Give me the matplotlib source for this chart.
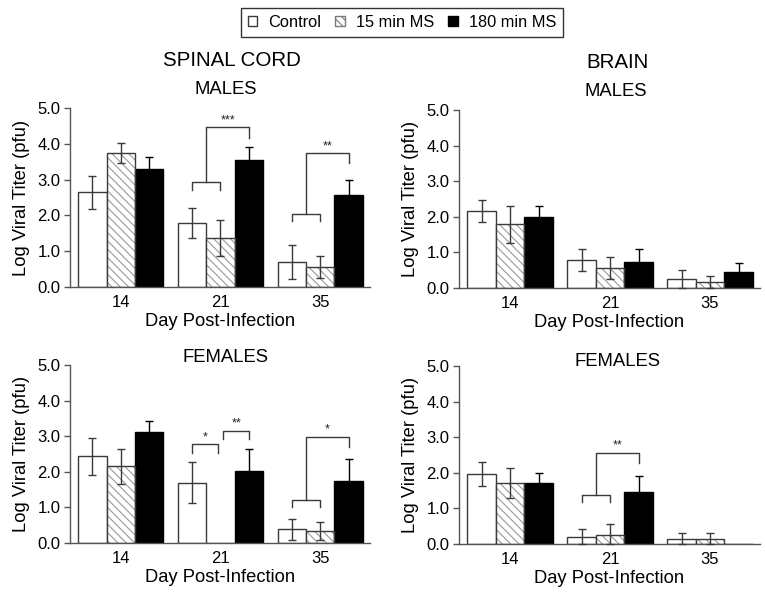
import numpy as np
import matplotlib
matplotlib.use("Agg")
import matplotlib.pyplot as plt
from matplotlib.patches import Patch

plt.rcParams['font.family'] = ['Liberation Sans', 'DejaVu Sans']
plt.rcParams['hatch.linewidth'] = 0.8

days = ["14", "21", "35"]
groups = ["Control", "15 min MS", "180 min MS"]

# means / SEM per panel: rows = groups (Control, 15 min, 180 min), cols = days
sc_m_mean = [[2.64, 1.79, 0.69], [3.74, 1.37, 0.56], [3.29, 3.54, 2.58]]
sc_m_sem = [[0.47, 0.42, 0.47], [0.28, 0.51, 0.30], [0.35, 0.37, 0.40]]
br_m_mean = [[2.16, 0.79, 0.25], [1.79, 0.56, 0.18], [2.00, 0.74, 0.46]]
br_m_sem = [[0.31, 0.30, 0.26], [0.52, 0.31, 0.17], [0.29, 0.35, 0.24]]
sc_f_mean = [[2.43, 1.69, 0.38], [2.15, 0.00, 0.33], [3.11, 2.02, 1.74]]
sc_f_sem = [[0.51, 0.58, 0.30], [0.50, 0.00, 0.25], [0.33, 0.61, 0.63]]
br_f_mean = [[1.96, 0.21, 0.14], [1.72, 0.26, 0.14], [1.72, 1.46, 0.00]]
br_f_sem = [[0.33, 0.21, 0.16], [0.42, 0.30, 0.16], [0.27, 0.45, 0.00]]

# significance: (day index, label, low bracket y, high bracket y)
sc_m_sig = [(1, "***", 2.92, 4.46), (2, "**", 2.04, 3.74)]
br_m_sig = []
sc_f_sig = [(2, "*", 1.22, 2.98)]
sc_f_pairs = [(1, 0, 1, "*", 2.77), (1, 1, 2, "**", 3.15)]
br_f_sig = [(1, "**", 1.38, 2.57)]

W = 0.285
EC = "#3a3a3a"
HATCH = "\\\\\\\\"

fig = plt.figure(figsize=(7.65, 5.97), dpi=100)
ax_pos = {
    "tl": [70/765, 1-287/597, 300/765, 179/597],
    "tr": [459/765, 1-288/597, 301/765, 178/597],
    "bl": [70/765, 1-543/597, 300/765, 178/597],
    "br": [459/765, 1-544/597, 301/765, 178/597],
}


def draw_panel(ax, means, sems, sig, pairs=()):
    x = np.arange(len(days))
    means = np.array(means)
    sems = np.array(sems)
    for g in range(3):
        xs = x + (g - 1) * W
        m = means[g]
        if g == 0:
            ax.bar(xs, m, W, color="white", edgecolor=EC, linewidth=1.0, zorder=2)
        elif g == 1:
            ax.bar(xs, m, W, color="white", edgecolor="#999999", hatch=HATCH,
                   linewidth=0, zorder=2)
            ax.bar(xs, m, W, color="none", edgecolor=EC, linewidth=1.0, zorder=3)
        else:
            ax.bar(xs, m, W, color="black", edgecolor="black", linewidth=1.0, zorder=2)
        ok = m > 0
        lower = np.minimum(sems[g], m)
        ax.errorbar(xs[ok], m[ok], yerr=[lower[ok], sems[g][ok]], fmt="none",
                    ecolor=EC if g < 2 else "black", elinewidth=1.0,
                    capsize=2.6, capthick=1.0, zorder=4, clip_on=False)
    lc = "#3a3a3a"
    for (d, lab, ylo, yhi) in sig:
        xc, x15, x180 = d - W, d, d + W
        ax.plot([xc, xc, x15, x15], [ylo - 0.21, ylo, ylo, ylo - 0.21],
                color=lc, lw=1.0, zorder=5)
        xm = (xc + x15) / 2
        ax.plot([xm, xm, x180, x180], [ylo, yhi, yhi, yhi - 0.29],
                color=lc, lw=1.0, zorder=5)
        ax.text((xm + x180) / 2, yhi + 0.03, lab, ha="center", va="bottom",
                fontsize=9, color="#222222")
    for (d, g1, g2, lab, y) in pairs:
        x1 = d + (g1 - 1) * W + (0.0 if g1 == 0 else 0.03)
        x2 = d + (g2 - 1) * W - (0.03 if g2 == 1 else 0.0)
        ax.plot([x1, x1, x2, x2], [y - 0.23, y, y, y - 0.23], color=lc, lw=1.0, zorder=5)
        ax.text((x1 + x2) / 2, y + 0.03, lab, ha="center", va="bottom",
                fontsize=9, color="#222222")
    ax.set_xlim(-0.51, 2.5)
    ax.set_ylim(0, 5.0)
    ax.set_yticks(np.arange(0, 5.01, 1.0))
    ax.set_yticklabels([f"{v:.1f}" for v in np.arange(0, 5.01, 1.0)])
    ax.set_xticks(x)
    ax.set_xticklabels(days)
    ax.tick_params(axis="x", length=0, pad=6, labelsize=12)
    ax.tick_params(axis="y", length=4, width=1, color="#555555", labelsize=12,
                   direction="out", pad=3)
    for s in ["top", "right"]:
        ax.spines[s].set_visible(False)
    for s in ["left", "bottom"]:
        ax.spines[s].set_color("#555555")
        ax.spines[s].set_linewidth(1.0)
    ax.set_ylabel("Log Viral Titer (pfu)", fontsize=13.2, labelpad=5)
    ax.set_xlabel("Day Post-Infection", fontsize=13.2, labelpad=2)


ax1 = fig.add_axes(ax_pos["tl"])
draw_panel(ax1, sc_m_mean, sc_m_sem, sc_m_sig)
ax2 = fig.add_axes(ax_pos["tr"])
draw_panel(ax2, br_m_mean, br_m_sem, br_m_sig)
ax3 = fig.add_axes(ax_pos["bl"])
draw_panel(ax3, sc_f_mean, sc_f_sem, sc_f_sig, sc_f_pairs)
ax4 = fig.add_axes(ax_pos["br"])
draw_panel(ax4, br_f_mean, br_f_sem, br_f_sig)

def fy(py):
    return 1 - py / 597

fig.text(232/765, fy(60), "SPINAL CORD", ha="center", va="center", fontsize=14.8)
fig.text(617/765, fy(62), "BRAIN", ha="center", va="center", fontsize=14.8)
fig.text(226/765, fy(90), "MALES", ha="center", va="center", fontsize=13.3)
fig.text(616/765, fy(92), "MALES", ha="center", va="center", fontsize=13.3)
fig.text(225/765, fy(358), "FEMALES", ha="center", va="center", fontsize=13.3)
fig.text(617/765, fy(361), "FEMALES", ha="center", va="center", fontsize=13.3)

handles = [
    Patch(facecolor="white", edgecolor=EC, linewidth=1.0),
    Patch(facecolor="white", edgecolor="#7a7a7a", hatch=HATCH, linewidth=1.0),
    Patch(facecolor="black", edgecolor="black", linewidth=1.0),
]
leg = fig.legend(handles, groups, loc="center", bbox_to_anchor=(402/765, fy(22.5)),
                 ncol=3, frameon=True, fancybox=False, fontsize=11.8,
                 handlelength=0.6, handleheight=0.6, handletextpad=0.67,
                 columnspacing=0.85, borderpad=0.4, borderaxespad=0,
                 edgecolor="black")
leg.get_frame().set_linewidth(1.0)

fig.savefig("out.png", dpi=100)
